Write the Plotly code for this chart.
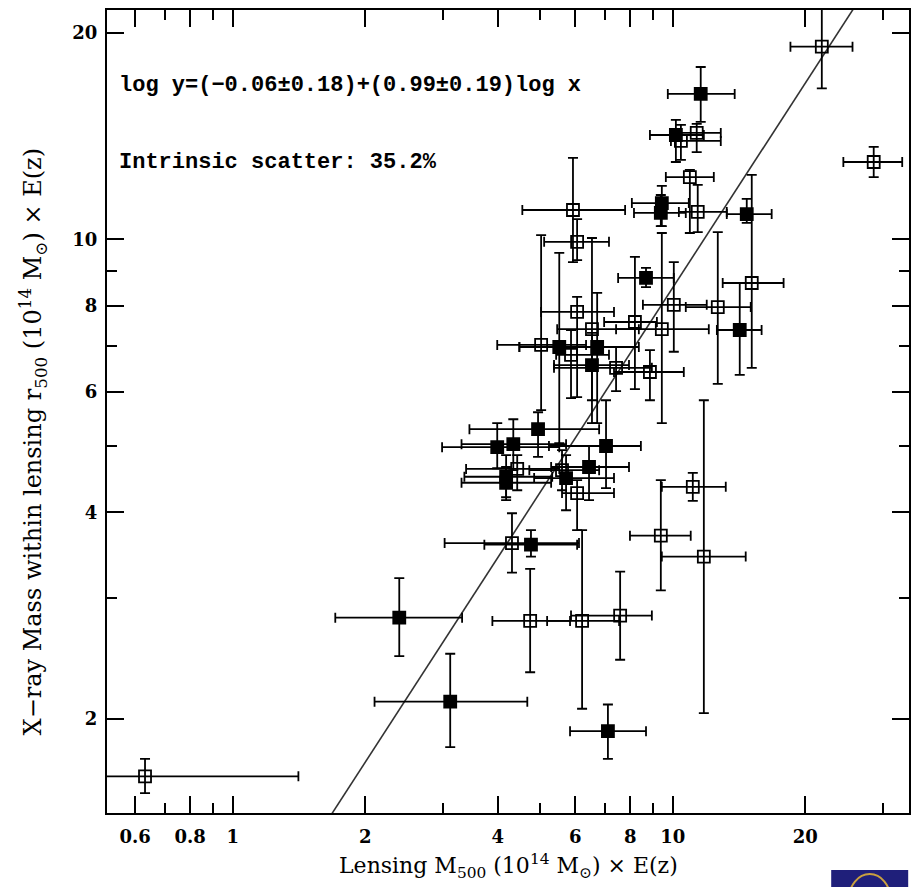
import numpy as np
import plotly.graph_objects as go

# ---- data ----
# open squares
open_x   = [0.632, 4.74, 6.22, 7.59, 21.8, 28.6, 11.33, 10.43, 10.93, 11.39, 5.93, 6.06, 10.05, 12.65, 15.11,
            8.20, 9.44, 6.06, 6.55, 5.02, 5.87, 7.43, 8.87, 5.60, 6.06, 4.43, 4.31, 9.39, 11.10, 11.76]
open_y   = [1.65, 2.78, 2.78, 2.83, 19.1, 12.97, 14.30, 13.92, 12.33, 10.97, 11.04, 9.92, 8.03, 7.97, 8.64,
            7.58, 7.40, 7.84, 7.40, 7.02, 6.79, 6.50, 6.41, 4.61, 4.27, 4.63, 3.61, 3.70, 4.36, 3.45]
open_xlo = [0.45, 3.89, 5.18, 5.87, 18.5, 24.4, 10.32, 9.90, 9.64, 10.32, 4.55, 5.10, 8.55, 10.70, 12.98,
            6.98, 7.43, 5.02, 5.46, 3.99, 5.43, 5.37, 7.35, 4.72, 5.60, 3.39, 3.03, 7.99, 9.44, 9.44]
open_xhi = [1.41, 5.84, 7.55, 8.96, 25.6, 33.2, 12.85, 12.85, 12.39, 13.26, 7.79, 7.16, 11.94, 15.03, 17.85,
            9.20, 12.07, 7.35, 8.37, 6.35, 7.16, 8.96, 10.59, 6.80, 7.35, 5.52, 6.12, 10.98, 13.19, 14.64]
open_ylo = [1.56, 2.34, 2.07, 2.44, 16.6, 12.33, 13.41, 13.06, 10.22, 10.25, 9.27, 9.33, 6.86, 6.16, 6.50,
            6.05, 5.40, 5.89, 5.83, 5.64, 5.87, 6.01, 5.83, 4.31, 3.77, 4.31, 3.27, 3.08, 4.16, 2.04]
open_yhi = [1.75, 3.31, 3.77, 3.28, 22.5, 13.64, 14.74, 14.69, 12.63, 12.01, 13.15, 10.71, 9.27, 10.25, 12.42,
            9.43, 10.22, 8.25, 10.05, 10.15, 7.38, 6.97, 6.90, 4.93, 4.46, 4.85, 3.99, 4.46, 4.57, 5.83]

# filled squares
fill_x   = [2.39, 3.12, 7.12, 11.57, 10.16, 9.44, 9.39, 14.72, 8.69, 14.19, 6.73, 5.52, 6.55,
            4.94, 3.99, 4.34, 7.05, 6.45, 5.72, 4.18, 4.18, 4.76]
fill_y   = [2.81, 2.12, 1.92, 16.30, 14.20, 11.30, 10.93, 10.89, 8.79, 7.38, 6.97, 6.97, 6.56,
            5.29, 4.98, 5.03, 5.00, 4.66, 4.49, 4.51, 4.42, 3.59]
fill_xlo = [1.71, 2.10, 5.84, 9.74, 8.87, 8.07, 8.16, 13.26, 7.51, 12.59, 4.48, 4.48, 5.37,
            3.45, 2.99, 3.31, 5.23, 5.29, 4.84, 3.36, 3.31, 3.73]
fill_xhi = [3.32, 4.67, 8.69, 13.82, 11.76, 10.87, 10.70, 16.77, 10.05, 15.91, 8.37, 6.80, 7.95,
            6.80, 5.52, 5.72, 8.46, 7.95, 7.35, 5.32, 5.29, 6.06]
fill_ylo = [2.47, 1.82, 1.75, 14.84, 12.97, 10.46, 10.46, 10.57, 8.52, 6.35, 5.40, 5.05, 5.40,
            4.82, 4.64, 4.61, 4.34, 4.17, 4.03, 4.21, 4.17, 3.45]
fill_yhi = [3.21, 2.49, 2.10, 17.84, 14.94, 11.97, 11.61, 11.46, 9.09, 8.64, 8.36, 9.56, 7.31,
            5.60, 5.40, 5.47, 5.83, 5.00, 4.85, 4.85, 4.66, 3.77]

# best-fit relation: log y = a + b log x
fit_a, fit_b = -0.06, 0.99

x_ticks = [0.6, 0.8, 1, 2, 4, 6, 8, 10, 20]
x_minor = [0.7, 0.9, 3, 5, 7, 9, 30]
y_ticks = [2, 4, 6, 8, 10, 20]
y_minor = [3, 5, 7, 9]
x_range = [0.518, 34.4]
y_range = [1.459, 21.6]

fig = go.Figure()

fit_x = np.logspace(np.log10(x_range[0]), np.log10(x_range[1]), 50)
fit_y = 10 ** (fit_a + fit_b * np.log10(fit_x))
fig.add_trace(go.Scatter(x=fit_x, y=fit_y, mode="lines",
                         line=dict(color="#333333", width=1.6), showlegend=False,
                         hoverinfo="skip"))

def add_points(x, y, xlo, xhi, ylo, yhi, symbol, size):
    x, y = np.array(x), np.array(y)
    xlo, xhi, ylo, yhi = map(np.array, (xlo, xhi, ylo, yhi))
    fig.add_trace(go.Scatter(
        x=x, y=y, mode="markers",
        marker=dict(symbol=symbol, size=size, color="black",
                    line=dict(color="black", width=1.8)),
        error_x=dict(type="data", symmetric=False, array=xhi - x, arrayminus=x - xlo,
                     color="black", thickness=1.8, width=5),
        error_y=dict(type="data", symmetric=False, array=yhi - y, arrayminus=y - ylo,
                     color="black", thickness=1.8, width=5),
        showlegend=False))

add_points(open_x, open_y, open_xlo, open_xhi, open_ylo, open_yhi, "square-open", 12)
add_points(fill_x, fill_y, fill_xlo, fill_xhi, fill_ylo, fill_yhi, "square", 12)

axis_common = dict(type="log", showline=True, linecolor="black", linewidth=2, mirror="allticks",
                   ticks="inside", ticklen=17, tickwidth=1.6, tickcolor="black",
                   showgrid=False, zeroline=False,
                   tickfont=dict(family="DejaVu Serif", size=18, color="black", weight="bold"))

fig.update_xaxes(range=[np.log10(x_range[0]), np.log10(x_range[1])],
                 tickvals=x_ticks, ticktext=[str(v) for v in x_ticks], ticklabelstandoff=6,
                 minor=dict(tickvals=x_minor, ticks="inside", ticklen=10, tickwidth=1.6, tickcolor="black"),
                 **axis_common)
fig.update_yaxes(range=[np.log10(y_range[0]), np.log10(y_range[1])],
                 tickvals=y_ticks, ticktext=[str(v) for v in y_ticks], ticklabelstandoff=4,
                 minor=dict(tickvals=y_minor, ticks="inside", ticklen=10, tickwidth=1.6, tickcolor="black"),
                 **axis_common)

mono = dict(family="Liberation Mono", size=22, color="black", weight="bold")
serif_x = dict(family="DejaVu Serif", size=22, color="black")
serif_y = dict(family="DejaVu Serif", size=24, color="black")
annotations = [
    dict(text="log y=(\u22120.06\u00b10.18)+(0.99\u00b10.19)log x", x=0.0124, y=0.9066,
         xref="paper", yref="paper", xanchor="left", yanchor="middle", showarrow=False, font=mono),
    dict(text="Intrinsic scatter: 35.2%", x=0.0124, y=0.8095,
         xref="paper", yref="paper", xanchor="left", yanchor="middle", showarrow=False, font=mono),
    dict(text="Lensing M<sub>500</sub> (10<sup>14</sup> M<sub>\u2299</sub>) \u00d7 E(z)",
         x=0.501, y=-0.066, xref="paper", yref="paper", xanchor="center", yanchor="middle",
         showarrow=False, font=serif_x),
    dict(text="X\u2212ray Mass within lensing r<sub>500</sub> (10<sup>14</sup> M<sub>\u2299</sub>) \u00d7 E(z)",
         x=-0.093, y=0.462, xref="paper", yref="paper", xanchor="center", yanchor="middle",
         textangle=-90, showarrow=False, font=serif_y),
]

shapes = [
    dict(type="rect", xref="paper", yref="paper", x0=0.903, x1=0.999, y0=-0.093, y1=-0.071,
         fillcolor="#1f1f7a", line=dict(width=0)),
    dict(type="circle", xref="paper", yref="paper", x0=0.925, x1=0.977, y0=-0.14, y1=-0.076,
         line=dict(color="#c9a040", width=2)),
]

fig.update_layout(width=913, height=887, margin=dict(l=107, r=2, t=10, b=74),
                  plot_bgcolor="white", paper_bgcolor="white",
                  annotations=annotations, shapes=shapes)

fig.write_html("out.html")
